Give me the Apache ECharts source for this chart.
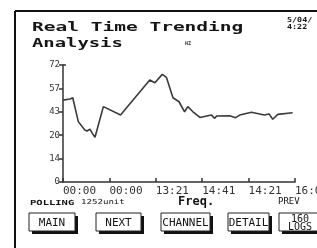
<!DOCTYPE html>
<html>
<head>
<meta charset="utf-8">
<title>Real Time Trending</title>
<script src="https://cdn.jsdelivr.net/npm/echarts@6.0.0/dist/echarts.min.js"></script>
<style>
  html, body { margin: 0; padding: 0; background: #fff; }
  #main { width: 317px; height: 248px; }
</style>
</head>
<body>
<div id="main"></div>
<script>
// tick labels
var xLabels = ['00:00', '00:00', '13:21', '14:41', '14:21', '16:00'];
var yLabels = ['0', '14', '20', '43', '57', '72'];
// trend, in tick units [x, y]
var trendX = [0, 0.15, 0.21, 0.33, 0.47, 0.52, 0.58, 0.63, 0.69, 0.87, 1.24, 1.87, 1.98, 2.14, 2.23,
  2.37, 2.50, 2.62, 2.69, 2.80, 2.95, 3.20, 3.27, 3.31, 3.59, 3.72, 3.81, 4.06, 4.34, 4.44, 4.52, 4.63, 4.95];
var trendY = [3.50, 3.55, 3.60, 2.58, 2.22, 2.18, 2.26, 2.09, 1.91, 3.22, 2.86, 4.36, 4.24, 4.60, 4.47,
  3.60, 3.43, 3.00, 3.22, 3.00, 2.76, 2.86, 2.72, 2.82, 2.83, 2.75, 2.86, 2.98, 2.86, 2.91, 2.68, 2.89, 2.96];
var buttonLabels = ['MAIN', 'NEXT', 'CHANNEL', 'DETAIL', '160\nLOGS'];

var mono = 'DejaVu Sans Mono';
var ink = '#151515';

var trend = [];
for (var i = 0; i < trendX.length; i++) {
  trend.push([trendX[i], trendY[i]]);
}

// button boxes: x, y, w, h
var boxes = [[29, 213, 46, 18], [96, 213, 45, 18], [161, 213, 49, 18], [228, 213, 41, 18], [279, 213, 42, 18]];
var buttons = [];
for (var b = 0; b < buttonLabels.length; b++) {
  var bx = boxes[b];
  buttons.push({
    type: 'rect', shape: { x: bx[0] + 3, y: bx[1] + 3, width: bx[2], height: bx[3] },
    style: { fill: '#111' }, silent: true
  });
  buttons.push({
    type: 'rect', shape: { x: bx[0], y: bx[1], width: bx[2], height: bx[3] },
    style: { fill: '#fff', stroke: '#222', lineWidth: 1 }, silent: true
  });
  buttons.push({
    type: 'text', x: bx[0] + bx[2] / 2, y: bx[1] + bx[3] / 2 + 1,
    style: {
      text: buttonLabels[b], font: (b == 4 ? '10px ' : '11px ') + mono, fill: ink,
      align: 'center', verticalAlign: 'middle', lineHeight: b == 4 ? 8 : 12
    }, silent: true
  });
}

var myChart = echarts.init(document.getElementById('main'), null, { renderer: 'canvas' });

var option = {
  animation: false,
  backgroundColor: '#fff',
  grid: {
    left: 63, right: 22, top: 65, bottom: 66,
    containLabel: false, outerBoundsMode: 'none'
  },
  xAxis: {
    type: 'value', min: 0, max: 5, interval: 1,
    axisLine: { lineStyle: { color: '#333', width: 1.5 } },
    axisTick: { inside: true, length: 4, lineStyle: { color: '#333', width: 1.5 } },
    splitLine: { show: false },
    axisLabel: {
      margin: 4, align: 'left', color: '#333', fontFamily: mono, fontSize: 11,
      formatter: function (v) { return xLabels[Math.round(v)]; }
    }
  },
  yAxis: {
    type: 'value', min: 0, max: 5, interval: 1,
    axisLine: { show: true, lineStyle: { color: '#333', width: 1.5 } },
    axisTick: { show: true, length: 4, lineStyle: { color: '#333', width: 1.5 } },
    splitLine: { show: false },
    axisLabel: {
      margin: 3, color: '#333', fontFamily: mono, fontSize: 9,
      formatter: function (v) { return yLabels[Math.round(v)]; }
    }
  },
  series: [{
    type: 'line',
    data: trend,
    showSymbol: false,
    symbol: 'none',
    lineStyle: { color: '#3a3a3a', width: 1.6 }
  }],
  graphic: [
    // panel frame
    { type: 'line', shape: { x1: 15, y1: 11, x2: 317, y2: 11 }, style: { stroke: '#111', lineWidth: 2 }, silent: true },
    { type: 'line', shape: { x1: 15, y1: 11, x2: 15, y2: 248 }, style: { stroke: '#111', lineWidth: 2 }, silent: true },
    // top-right axis cap
    { type: 'line', shape: { x1: 63, y1: 65, x2: 66, y2: 65 }, style: { stroke: '#333', lineWidth: 1.5 }, silent: true },
    // headings
    { type: 'text', x: 32, y: 28, scaleX: 1.5, style: { text: 'Real Time Trending', font: 'bold 13px ' + mono, fill: ink, verticalAlign: 'middle' }, silent: true },
    { type: 'text', x: 32, y: 44, scaleX: 1.45, style: { text: 'Analysis', font: 'bold 13px ' + mono, fill: ink, verticalAlign: 'middle' }, silent: true },
    { type: 'text', x: 185, y: 44, style: { text: 'HZ', font: 'bold 5px ' + mono, fill: '#333', verticalAlign: 'middle' }, silent: true },
    { type: 'text', x: 287, y: 20, scaleX: 1.2, style: { text: '5/04/', font: 'bold 7px ' + mono, fill: ink, verticalAlign: 'middle' }, silent: true },
    { type: 'text', x: 287, y: 27, scaleX: 1.2, style: { text: '4:22', font: 'bold 7px ' + mono, fill: ink, verticalAlign: 'middle' }, silent: true },
    // footer
    { type: 'text', x: 30, y: 203, scaleX: 1.5, style: { text: 'POLLING', font: 'bold 7px ' + mono, fill: ink, verticalAlign: 'middle' }, silent: true },
    { type: 'text', x: 81, y: 202, scaleX: 1.3, style: { text: '1252unit', font: '7px ' + mono, fill: ink, verticalAlign: 'middle' }, silent: true },
    { type: 'text', x: 178, y: 202, style: { text: 'Freq.', font: 'bold 12px ' + mono, fill: ink, verticalAlign: 'middle' }, silent: true },
    { type: 'text', x: 278, y: 202, style: { text: 'PREV', font: '9px ' + mono, fill: ink, verticalAlign: 'middle' }, silent: true }
  ].concat(buttons)
};

myChart.setOption(option);
</script>
</body>
</html>
